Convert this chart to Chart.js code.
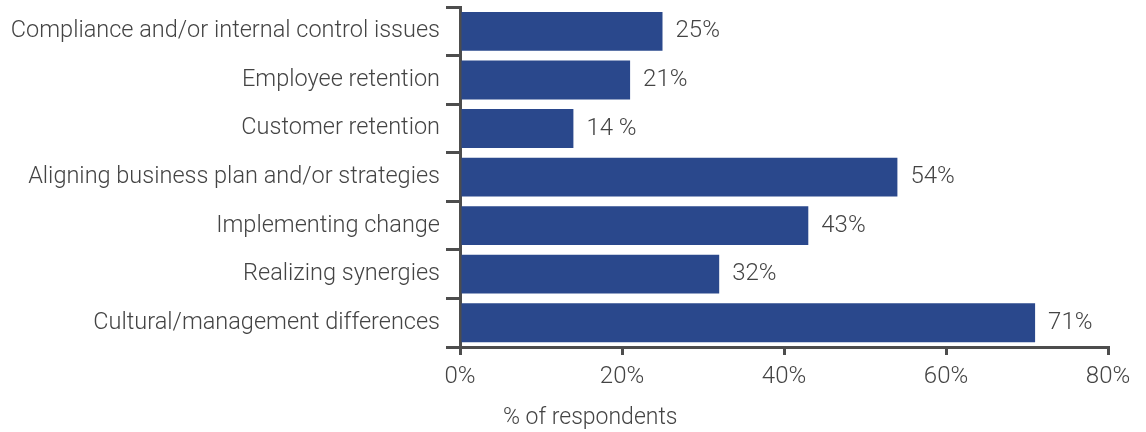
<!DOCTYPE html>
<html>
<head>
<meta charset="utf-8">
<script src="https://cdn.jsdelivr.net/npm/chart.js@4"></script>
<style>
    html, body { margin: 0; padding: 0; background: #fff; }
    #wrap { width: 1146px; height: 432px; position: relative; }
</style>
</head>
<body>
<div id="wrap"><canvas id="challengeChart"></canvas></div>
<script>
/**=================
 * Data
 =================*/
const categories = [
    'Compliance and/or internal control issues',
    'Employee retention',
    'Customer retention',
    'Aligning business plan and/or strategies',
    'Implementing change',
    'Realizing synergies',
    'Cultural/management differences'
];
const respondents = [25, 21, 14, 54, 43, 32, 71];
const valueLabels = ['25%', '21%', '14 %', '54%', '43%', '32%', '71%'];
const xTicks = [0, 20, 40, 60, 80];
const axisTitle = '% of respondents';

const textColor = '#444444';
const axisColor = '#4d4d4d';
const barColor = '#2a488c';
const fontFamily = 'Roboto, "Liberation Sans", sans-serif';

/**=================
 * Plugins
 =================*/
const valueLabelPlugin = {
    id: 'valueLabels',
    afterDatasetsDraw(chart) {
        const ctx = chart.ctx;
        const meta = chart.getDatasetMeta(0);
        ctx.save();
        ctx.font = `300 24px ${fontFamily}`;
        ctx.fillStyle = textColor;
        ctx.textAlign = 'left';
        ctx.textBaseline = 'middle';
        meta.data.forEach((bar, i) => {
            ctx.fillText(valueLabels[i], bar.x + 13, bar.y);
        });
        ctx.restore();
    }
};

const axisTitlePlugin = {
    id: 'axisTitle',
    afterDraw(chart) {
        const ctx = chart.ctx;
        ctx.save();
        ctx.font = `300 23px ${fontFamily}`;
        ctx.fillStyle = textColor;
        ctx.textAlign = 'left';
        ctx.textBaseline = 'middle';
        ctx.fillText(axisTitle, chart.chartArea.left + 43, 418);
        ctx.restore();
    }
};

/**=================
 * Chart
 =================*/
const chartCtx = document.getElementById('challengeChart');
const challengeChart = new Chart(chartCtx, {
    type: 'bar',
    data: {
        labels: categories,
        datasets: [{
            data: respondents,
            backgroundColor: barColor,
            borderWidth: 0,
            categoryPercentage: 1,
            barPercentage: 0.8
        }]
    },
    options: {
        indexAxis: 'y',
        responsive: true,
        maintainAspectRatio: false,
        animation: false,
        layout: {
            padding: { top: 0, right: 38, left: 0, bottom: 0 }
        },
        scales: {
            x: {
                min: 0,
                max: 80,
                afterBuildTicks(scale) {
                    scale.ticks = xTicks.map(v => ({ value: v }));
                },
                afterFit(scale) {
                    scale.height = 85;
                },
                border: { display: true, color: axisColor, width: 3 },
                grid: {
                    drawOnChartArea: false,
                    drawTicks: true,
                    tickLength: 8,
                    color: axisColor,
                    lineWidth: 3
                },
                ticks: {
                    color: textColor,
                    font: { family: fontFamily, size: 24, weight: 300 },
                    padding: 8,
                    maxRotation: 0,
                    callback: v => v + '%'
                }
            },
            y: {
                offset: true,
                afterFit(scale) {
                    scale.width = 460;
                },
                border: { display: true, color: axisColor, width: 3 },
                grid: {
                    offset: true,
                    drawOnChartArea: false,
                    drawTicks: true,
                    tickLength: 14,
                    color: axisColor,
                    lineWidth: 3
                },
                ticks: {
                    color: textColor,
                    // small line height keeps the top edge of the plot close to the canvas edge
                    font: { family: fontFamily, size: 23.5, weight: 300, lineHeight: 0.1 },
                    padding: 6
                }
            }
        },
        plugins: {
            legend: { display: false },
            tooltip: { enabled: false }
        }
    },
    plugins: [valueLabelPlugin, axisTitlePlugin]
});
</script>
</body>
</html>
